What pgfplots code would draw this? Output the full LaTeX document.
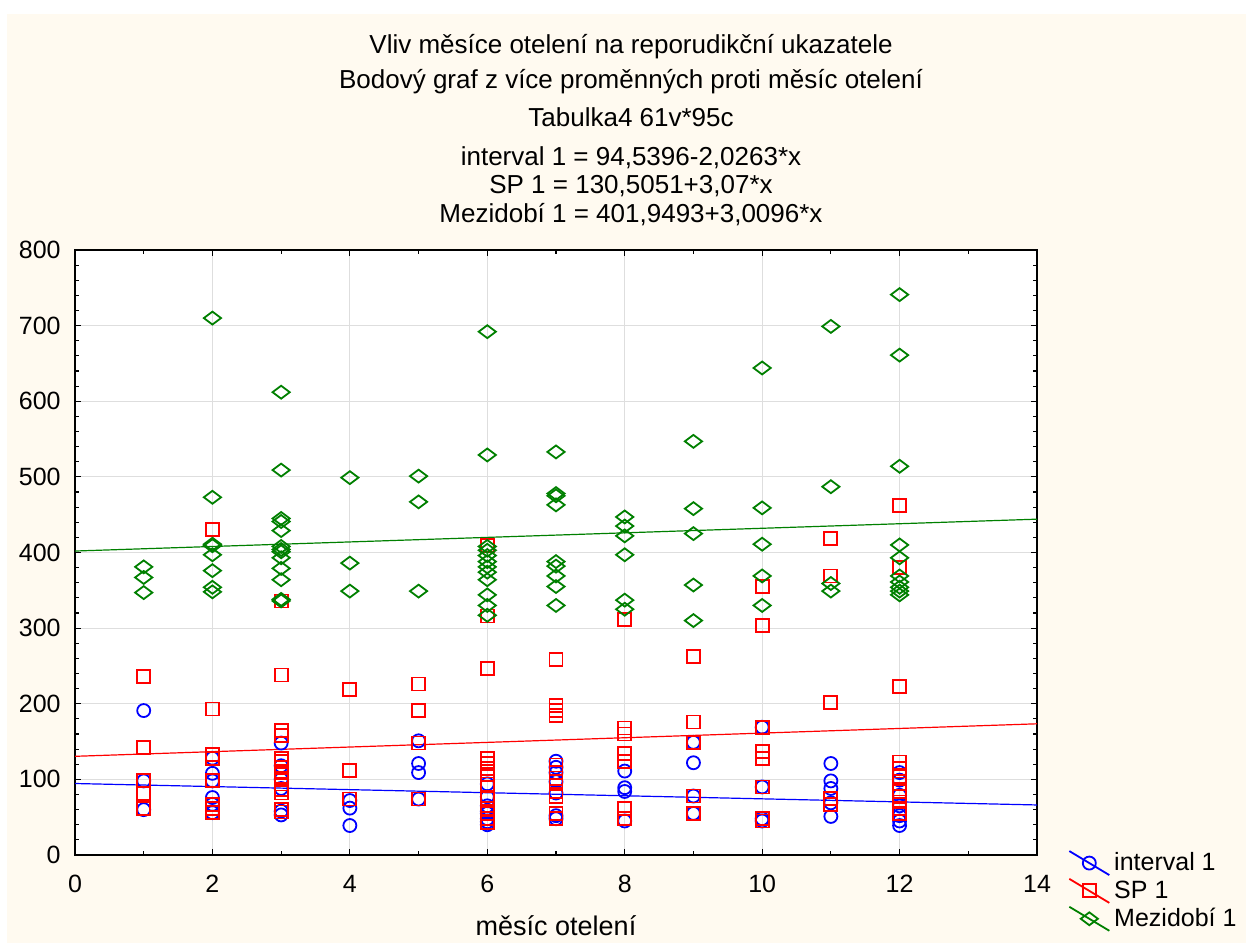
\documentclass[border=0pt]{standalone}
\usepackage{fontspec}
\setmainfont{Liberation Sans}
\usepackage{pgfplots}
\pgfplotsset{compat=1.18}
\definecolor{bgcream}{RGB}{255,250,240}
\definecolor{mzgreen}{RGB}{0,128,0}
\definecolor{gridgray}{RGB}{222,222,222}

\begin{document}
\begin{tikzpicture}
\path[use as bounding box] (-37.5pt,-44pt) rectangle (585.5pt,427.5pt);
\fill[white] (-37.5pt,-44pt) rectangle (585.5pt,427.5pt);
\fill[bgcream] (-34pt,-44pt) rectangle (585.5pt,420.5pt);

\begin{axis}[
  at={(0,0)}, anchor=south west,
  scale only axis, width=481pt, height=302.5pt,
  xmin=0, xmax=14, ymin=0, ymax=800,
  xtick={0,2,...,14}, ytick={0,100,...,800},
  minor x tick num=1, minor y tick num=4,
  tick align=inside, major tick length=3pt, minor tick length=2pt,
  tick style={black, line width=0.6pt},
  grid=major, major grid style={gridgray, line width=0.5pt},
  axis line style={black, line width=0.8pt},
  axis background/.style={fill=white},
  /pgf/number format/assume math mode=true,
  ticklabel style={font=\fontsize{12.5}{14}\selectfont, inner sep=0pt},
  xticklabel style={anchor=base, yshift=-18.5pt},
  yticklabel style={anchor=east, xshift=-7pt},
  xlabel={měsíc otelení},
  xlabel style={font=\fontsize{13.5}{15}\selectfont, at={(axis description cs:0.5,0)}, anchor=base, yshift=-40pt},
  legend style={at={(1.026,0.018)}, anchor=north west, draw=none, fill=none,
    font=\fontsize{12.5}{14}\selectfont, cells={anchor=west}, row sep=-0.5pt},
  legend image code/.code={%
    \draw[mark repeat=2, mark phase=2, #1, sharp plot]
      plot coordinates {(0pt,6pt) (10pt,0pt) (20pt,-6pt)};},
]

% interval 1
\addplot[only marks, blue, mark=o, mark size=3.25pt, line width=0.9pt] coordinates {
(1,191) (1,98) (1,60)
(2,128) (2,108) (2,98) (2,76) (2,67) (2,56)
(3,148) (3,118) (3,100) (3,88) (3,58) (3,53)
(4,72) (4,62) (4,39)
(5,151) (5,121) (5,109) (5,74)
(6,94) (6,77) (6,65) (6,58) (6,55) (6,48) (6,44) (6,40)
(7,124) (7,116) (7,109) (7,97) (7,82) (7,52) (7,48)
(8,111) (8,89) (8,84) (8,45)
(9,149) (9,122) (9,78) (9,55)
(10,169) (10,90) (10,48) (10,45)
(11,121) (11,98) (11,88) (11,69) (11,51)
(12,109) (12,99) (12,79) (12,65) (12,52) (12,45) (12,39)
};
\addlegendentry{interval 1}
\addplot[blue, line width=0.6pt, forget plot] coordinates {(0,94.5396) (14,66.1714)};

% SP 1
\addplot[only marks, red, mark=square, mark size=3.25pt, line width=0.9pt] coordinates {
(1,236) (1,142) (1,98) (1,81) (1,61)
(2,430) (2,193) (2,133) (2,128) (2,98) (2,67) (2,62) (2,56)
(3,336) (3,238) (3,165) (3,158) (3,128) (3,124) (3,116) (3,109) (3,101) (3,94) (3,87) (3,82) (3,60) (3,57)
(4,219) (4,112) (4,74)
(5,226) (5,191) (5,148) (5,74)
(6,409) (6,316) (6,247) (6,128) (6,121) (6,114) (6,106) (6,94) (6,75) (6,62) (6,55) (6,48) (6,43)
(7,258) (7,198) (7,191) (7,185) (7,119) (7,109) (7,97) (7,84) (7,77) (7,55) (7,48)
(8,311) (8,168) (8,160) (8,134) (8,124) (8,62) (8,48)
(9,262) (9,176) (9,149) (9,78) (9,55)
(10,355) (10,304) (10,169) (10,137) (10,128) (10,90) (10,48) (10,45)
(11,419) (11,369) (11,202) (11,75) (11,67)
(12,462) (12,380) (12,223) (12,123) (12,114) (12,104) (12,94) (12,84) (12,77) (12,70) (12,62) (12,55)
};
\addlegendentry{SP 1}
\addplot[red, line width=0.6pt, forget plot] coordinates {(0,130.5051) (14,173.4851)};

% Mezidobi 1
\addplot[only marks, mzgreen, mark=diamond, mark size=4.3pt, mark options={rotate=90}, line width=0.9pt] coordinates {
(1,381) (1,367) (1,347)
(2,710) (2,473) (2,411) (2,409) (2,397) (2,376) (2,354) (2,348)
(3,612) (3,509) (3,445) (3,441) (3,429) (3,408) (3,404) (3,401) (3,393) (3,379) (3,364) (3,338) (3,336)
(4,499) (4,386) (4,349)
(5,501) (5,467) (5,349)
(6,692) (6,529) (6,408) (6,403) (6,396) (6,388) (6,381) (6,374) (6,364) (6,344) (6,330) (6,317)
(7,533) (7,478) (7,475) (7,463) (7,388) (7,382) (7,369) (7,355) (7,330)
(8,447) (8,435) (8,422) (8,397) (8,337) (8,325)
(9,547) (9,458) (9,425) (9,357) (9,310)
(10,644) (10,459) (10,411) (10,369) (10,330)
(11,699) (11,487) (11,359) (11,349)
(12,741) (12,661) (12,514) (12,410) (12,393) (12,369) (12,361) (12,354) (12,349) (12,344)
};
\addlegendentry{Mezidobí 1}
\addplot[mzgreen, line width=0.6pt, forget plot] coordinates {(0,401.9493) (14,444.0837)};
\end{axis}

\begin{scope}[every node/.style={font=\fontsize{13}{15}\selectfont, anchor=base}]
\node at (278pt,400.5pt) {Vliv měsíce otelení na reporudikční ukazatele};
\node at (278pt,383pt) {Bodový graf z více proměnných proti měsíc otelení};
\node at (278pt,364pt) {Tabulka4 61v*95c};
\node at (278pt,344.5pt) {interval 1 = 94,5396-2,0263*x};
\node at (278pt,330.5pt) {SP 1 = 130,5051+3,07*x};
\node at (278pt,316pt) {Mezidobí 1 = 401,9493+3,0096*x};
\end{scope}
\end{tikzpicture}
\end{document}
